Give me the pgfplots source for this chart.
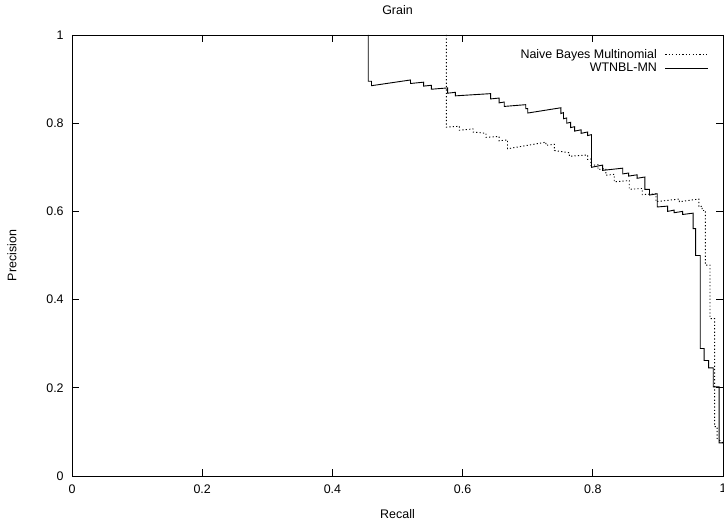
\documentclass[border=0pt]{standalone}
\usepackage{fontspec}
\setmainfont{Liberation Sans}
\usepackage{pgfplots}
\pgfplotsset{compat=1.18}
\begin{document}
\fontsize{12.5}{15}\selectfont
\begin{tikzpicture}[x=1bp,y=1bp]
\useasboundingbox (0,0) rectangle (724,522);
\begin{axis}[
  at={(72bp,46bp)}, anchor=south west,
  width=651bp, height=441bp, scale only axis,
  xmin=0, xmax=1, ymin=0, ymax=1,
  xtick={0,0.2,0.4,0.6,0.8,1},
  ytick={0,0.2,0.4,0.6,0.8,1},
  tick align=inside,
  major tick length=7bp,
  axis line style={line width=0.9bp},
  tick style={line width=0.8bp, black},
  /pgf/number format/assume math mode=true,
  tick label style={font=\fontsize{12.5}{15}\selectfont},
  xticklabel style={yshift=-4bp},
  yticklabel style={xshift=-4bp},
  title={Grain},
  title style={at={(axis description cs:0.5,1)}, anchor=base, yshift=15bp, font=\fontsize{12.5}{15}\selectfont},
  xlabel={Recall},
  xlabel style={at={(axis description cs:0.5,0)}, anchor=base, yshift=-43bp},
  ylabel={Precision},
  ylabel style={at={(axis description cs:-0.0922,0.5)}, anchor=center},
  label style={font=\fontsize{12.5}{15}\selectfont},
  legend style={draw=none, fill=none, at={(axis description cs:0.98,0.975)}, anchor=north east,
    font=\fontsize{12.5}{15}\selectfont, row sep=-1bp, inner sep=1bp},
  legend cell align=right,
  legend plot pos=right,
  legend image code/.code={\path (0bp,0bp); \draw[#1] (6bp,0bp) -- (49bp,0bp);},
]
% Naive Bayes Multinomial
\addplot[black, line width=0.9bp, dash pattern=on 1.2bp off 2.2bp] coordinates {
(0.575,1.000) (0.575,0.791) (0.595,0.793) (0.595,0.784) (0.616,0.787)
(0.616,0.780) (0.636,0.777) (0.636,0.768) (0.656,0.770) (0.656,0.760)
(0.669,0.762) (0.669,0.742) (0.728,0.757) (0.728,0.750) (0.741,0.752)
(0.741,0.738) (0.764,0.733) (0.764,0.725) (0.792,0.728) (0.792,0.718)
(0.797,0.719) (0.797,0.704) (0.808,0.706) (0.808,0.695) (0.820,0.697)
(0.820,0.682) (0.833,0.684) (0.833,0.667) (0.856,0.670) (0.856,0.650)
(0.876,0.652) (0.876,0.638) (0.897,0.640) (0.897,0.622) (0.933,0.628)
(0.933,0.622) (0.963,0.628) (0.963,0.610) (0.968,0.612) (0.968,0.602)
(0.973,0.602) (0.973,0.478) (0.980,0.478) (0.980,0.357) (0.987,0.357)
(0.987,0.112) (0.991,0.112) (0.991,0.085) (1.000,0.075)
};
\addlegendentry{Naive Bayes Multinomial}
% WTNBL-MN
\addplot[black, line width=0.9bp] coordinates {
(0.455,1.000) (0.455,0.895) (0.460,0.895) (0.460,0.885) (0.520,0.898)
(0.520,0.890) (0.540,0.893) (0.540,0.884) (0.552,0.886) (0.552,0.877)
(0.577,0.880) (0.577,0.868) (0.589,0.870) (0.589,0.862) (0.643,0.867)
(0.643,0.855) (0.656,0.857) (0.656,0.846) (0.664,0.848) (0.664,0.838)
(0.697,0.842) (0.697,0.833) (0.700,0.833) (0.700,0.823) (0.751,0.835)
(0.751,0.822) (0.755,0.824) (0.755,0.810) (0.760,0.812) (0.760,0.800)
(0.766,0.802) (0.766,0.790) (0.772,0.792) (0.772,0.782) (0.782,0.785)
(0.782,0.777) (0.792,0.780) (0.792,0.772) (0.798,0.774) (0.798,0.700)
(0.815,0.705) (0.815,0.693) (0.846,0.698) (0.846,0.685) (0.855,0.687)
(0.855,0.680) (0.868,0.683) (0.868,0.675) (0.880,0.678) (0.880,0.650)
(0.887,0.650) (0.887,0.637) (0.899,0.640) (0.899,0.610) (0.915,0.612)
(0.915,0.600) (0.925,0.603) (0.925,0.597) (0.938,0.600) (0.938,0.593)
(0.954,0.596) (0.954,0.561) (0.958,0.561) (0.958,0.500) (0.965,0.500)
(0.965,0.289) (0.971,0.289) (0.971,0.262) (0.978,0.262) (0.978,0.245)
(0.985,0.245) (0.985,0.202) (0.994,0.202) (0.994,0.075) (1.000,0.075)
};
\addlegendentry{WTNBL-MN}
\end{axis}
\end{tikzpicture}
\end{document}
